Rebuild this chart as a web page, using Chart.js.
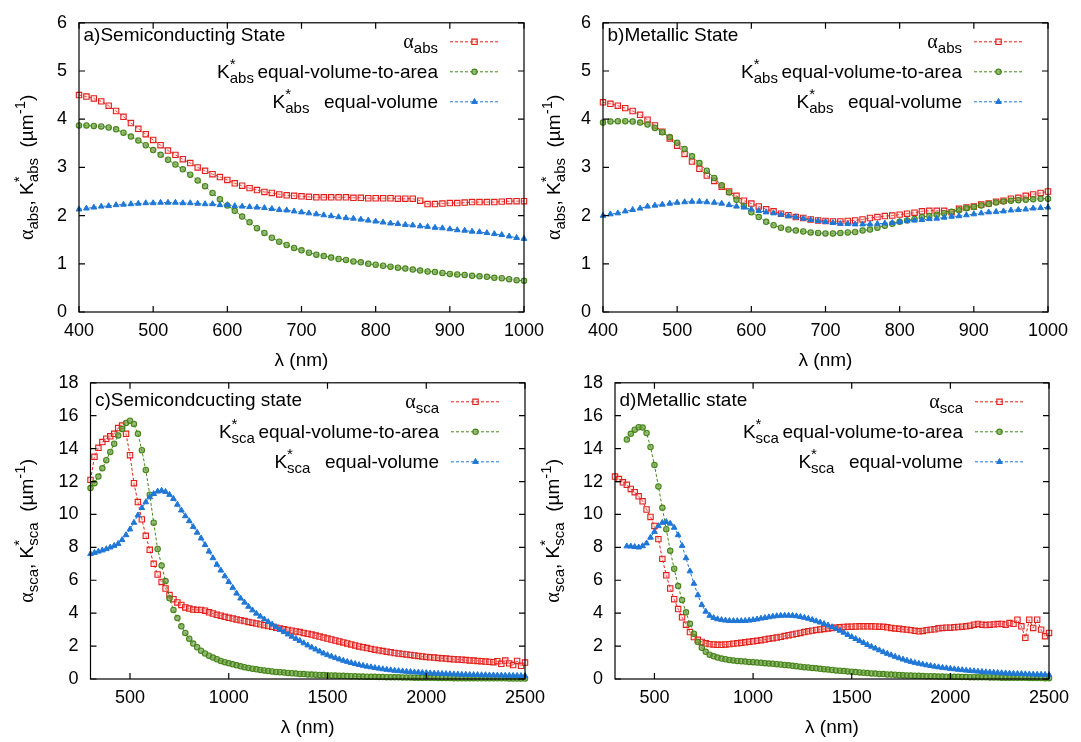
<!DOCTYPE html>
<html>
<head>
<meta charset="utf-8">
<title>Absorption and scattering coefficients</title>
<script src="https://cdn.jsdelivr.net/npm/chart.js@4.4.1/dist/chart.umd.min.js"></script>
<style>
  body { margin: 0; background: #fff; }
  canvas { position: absolute; }
</style>
</head>
<body>
<canvas id="chartA" width="560" height="371" style="left:0;top:0"></canvas>
<canvas id="chartB" width="541" height="371" style="left:540px;top:0"></canvas>
<canvas id="chartC" width="560" height="382" style="left:0;top:360px"></canvas>
<canvas id="chartD" width="541" height="382" style="left:540px;top:360px"></canvas>
<script>
// wavelengths (nm)
var absWl = [400,410,420,430,440,450,460,470,480,490,
  500,510,520,530,540,550,560,570,580,590,
  600,610,620,630,640,650,660,670,680,690,
  700,710,720,730,740,750,760,770,780,790,
  800,810,820,830,840,850,860,870,880,890,
  900,910,920,930,940,950,960,970,980,990,1000];
var scaWl = [300,320,340,360,380,400,420,440,460,480,
  500,520,540,560,580,600,620,640,660,680,
  700,720,740,760,780,800,820,840,860,880,
  900,920,940,960,980,1000,1020,1040,1060,1080,
  1100,1120,1140,1160,1180,1200,1220,1240,1260,1280,
  1300,1320,1340,1360,1380,1400,1420,1440,1460,1480,
  1500,1520,1540,1560,1580,1600,1620,1640,1660,1680,
  1700,1720,1740,1760,1780,1800,1820,1840,1860,1880,
  1900,1920,1940,1960,1980,2000,2020,2040,2060,2080,
  2100,2120,2140,2160,2180,2200,2220,2240,2260,2280,
  2300,2320,2340,2360,2380,2400,2420,2440,2460,2480,2500];

var absXTicks = [400, 500, 600, 700, 800, 900, 1000];
var absYTicks = [0, 1, 2, 3, 4, 5, 6];
var scaXTicks = [500, 1000, 1500, 2000, 2500];
var scaYTicks = [0, 2, 4, 6, 8, 10, 12, 14, 16, 18];

var legendText = ['', 'equal-volume-to-area', 'equal-volume'];

// a) semiconducting, absorption
var aAlpha = [4.50,4.47,4.43,4.37,4.28,4.17,4.05,3.92,3.80,3.69,
  3.57,3.46,3.35,3.26,3.17,3.09,3.00,2.93,2.86,2.80,
  2.74,2.67,2.62,2.57,2.53,2.49,2.47,2.44,2.42,2.41,
  2.40,2.39,2.38,2.38,2.38,2.38,2.38,2.37,2.37,2.36,
  2.36,2.36,2.36,2.35,2.35,2.35,2.31,2.24,2.24,2.25,
  2.26,2.26,2.27,2.28,2.28,2.28,2.28,2.29,2.30,2.30,2.30];
var aKArea = [3.87,3.87,3.86,3.85,3.83,3.79,3.72,3.64,3.56,3.46,
  3.36,3.26,3.16,3.06,2.96,2.85,2.73,2.61,2.47,2.34,
  2.21,2.10,1.98,1.86,1.74,1.64,1.54,1.46,1.39,1.33,
  1.28,1.23,1.19,1.16,1.13,1.10,1.08,1.05,1.03,1.00,
  0.98,0.96,0.94,0.92,0.90,0.88,0.86,0.84,0.83,0.81,
  0.79,0.78,0.77,0.75,0.74,0.73,0.71,0.70,0.68,0.66,0.65];
var aKVol = [2.13,2.15,2.17,2.19,2.20,2.22,2.23,2.24,2.25,2.26,
  2.26,2.27,2.27,2.27,2.26,2.26,2.25,2.24,2.24,2.22,
  2.22,2.20,2.19,2.18,2.17,2.16,2.14,2.12,2.11,2.09,
  2.07,2.05,2.03,2.01,1.99,1.97,1.95,1.94,1.92,1.90,
  1.88,1.86,1.84,1.83,1.81,1.80,1.78,1.77,1.75,1.74,
  1.72,1.70,1.69,1.67,1.66,1.64,1.62,1.60,1.57,1.54,1.52];

// b) metallic, absorption
var bAlpha = [4.35,4.32,4.28,4.23,4.17,4.09,3.99,3.87,3.74,3.60,
  3.45,3.28,3.12,2.97,2.83,2.72,2.60,2.50,2.41,2.31,
  2.25,2.19,2.13,2.09,2.04,2.01,1.97,1.95,1.92,1.90,
  1.89,1.88,1.88,1.89,1.90,1.92,1.95,1.97,1.99,2.00,
  2.02,2.04,2.06,2.09,2.10,2.10,2.10,2.07,2.14,2.17,
  2.19,2.23,2.25,2.29,2.31,2.35,2.37,2.41,2.44,2.47,2.50];
var bKArea = [3.93,3.95,3.96,3.96,3.95,3.93,3.89,3.82,3.73,3.63,
  3.51,3.38,3.23,3.09,2.93,2.78,2.63,2.48,2.33,2.20,
  2.07,1.97,1.87,1.80,1.75,1.71,1.69,1.67,1.65,1.64,
  1.63,1.63,1.64,1.65,1.66,1.69,1.71,1.75,1.79,1.83,
  1.87,1.90,1.93,1.97,1.99,2.02,2.05,2.08,2.11,2.15,
  2.18,2.21,2.24,2.27,2.29,2.31,2.32,2.33,2.34,2.35,2.35];
var bKVol = [2.00,2.03,2.05,2.09,2.12,2.15,2.19,2.21,2.23,2.25,
  2.27,2.28,2.29,2.29,2.28,2.27,2.25,2.22,2.19,2.17,
  2.13,2.10,2.07,2.05,2.02,1.99,1.97,1.94,1.91,1.89,
  1.87,1.85,1.83,1.83,1.82,1.82,1.82,1.83,1.84,1.85,
  1.87,1.89,1.90,1.91,1.93,1.94,1.96,1.98,1.99,2.01,
  2.03,2.05,2.07,2.08,2.09,2.11,2.12,2.13,2.15,2.16,2.17];

// c) semiconducting, scattering
var cAlpha = [12.1,13.5,14.05,14.4,14.6,14.75,14.9,15.25,15.4,14.9,
  13.6,11.9,10.75,9.7,8.7,7.85,7.0,6.35,5.9,5.5,
  5.1,4.85,4.65,4.5,4.35,4.28,4.22,4.2,4.2,4.15,
  4.05,3.98,3.9,3.85,3.78,3.72,3.67,3.62,3.57,3.52,
  3.47,3.42,3.37,3.32,3.27,3.22,3.17,3.12,3.07,3.02,
  2.98,2.94,2.89,2.85,2.8,2.75,2.7,2.64,2.58,2.52,
  2.46,2.4,2.34,2.28,2.22,2.16,2.1,2.04,1.98,1.93,
  1.88,1.83,1.78,1.74,1.7,1.66,1.62,1.58,1.55,1.52,
  1.49,1.46,1.43,1.4,1.37,1.34,1.32,1.3,1.28,1.26,
  1.24,1.22,1.2,1.19,1.17,1.15,1.13,1.12,1.1,1.08,
  1.06,1.04,1.02,1.08,0.92,1.12,0.95,0.85,1.1,0.8,1.0];
var cKArea = [11.6,11.9,12.3,12.8,13.3,13.8,14.3,14.8,15.2,15.55,
  15.7,15.5,14.9,13.9,12.7,11.2,9.5,7.9,6.9,5.95,
  4.9,4.2,3.7,3.2,2.8,2.45,2.15,1.93,1.72,1.55,
  1.42,1.3,1.2,1.1,1.02,0.95,0.89,0.83,0.77,0.72,
  0.67,0.63,0.59,0.55,0.52,0.49,0.46,0.43,0.41,0.39,
  0.37,0.35,0.33,0.31,0.3,0.28,0.27,0.26,0.25,0.24,
  0.23,0.22,0.21,0.2,0.19,0.18,0.17,0.16,0.15,0.15,
  0.14,0.13,0.13,0.12,0.12,0.11,0.11,0.1,0.1,0.09,
  0.09,0.09,0.08,0.08,0.08,0.07,0.07,0.07,0.06,0.06,
  0.06,0.06,0.05,0.05,0.05,0.05,0.05,0.05,0.04,0.04,
  0.04,0.04,0.04,0.04,0.04,0.04,0.03,0.03,0.03,0.03,0.03];
var cKVol = [7.6,7.67,7.75,7.82,7.9,8.0,8.1,8.22,8.45,8.75,
  9.1,9.5,9.95,10.4,10.75,11.05,11.25,11.4,11.45,11.38,
  11.2,10.95,10.6,10.25,9.9,9.6,9.25,8.9,8.55,8.15,
  7.75,7.35,6.95,6.6,6.25,5.9,5.55,5.2,4.9,4.65,
  4.4,4.18,3.98,3.8,3.63,3.47,3.32,3.16,3.0,2.86,
  2.72,2.58,2.45,2.32,2.18,2.05,1.92,1.8,1.68,1.56,
  1.46,1.37,1.28,1.2,1.12,1.05,0.98,0.92,0.86,0.81,
  0.76,0.72,0.68,0.64,0.6,0.57,0.54,0.51,0.49,0.47,
  0.45,0.43,0.41,0.4,0.38,0.37,0.35,0.34,0.33,0.32,
  0.31,0.3,0.29,0.28,0.27,0.27,0.26,0.25,0.25,0.24,
  0.24,0.23,0.23,0.22,0.22,0.21,0.21,0.2,0.2,0.19,0.19];

// d) metallic, scattering
var dAlpha = [12.3,12.15,11.95,11.8,11.55,11.35,11.1,10.8,10.3,9.85,
  9.3,8.5,7.3,6.3,5.5,4.85,4.25,3.75,3.3,2.85,
  2.55,2.38,2.25,2.17,2.12,2.1,2.08,2.08,2.1,2.12,
  2.15,2.17,2.2,2.23,2.26,2.29,2.32,2.36,2.4,2.44,
  2.48,2.52,2.56,2.61,2.66,2.7,2.75,2.8,2.85,2.9,
  2.94,2.98,3.01,3.04,3.07,3.1,3.12,3.14,3.16,3.17,
  3.18,3.19,3.2,3.2,3.2,3.2,3.19,3.18,3.17,3.14,
  3.1,3.07,3.05,3.02,3.0,2.97,2.93,2.9,2.92,2.97,
  3.0,3.02,3.08,3.1,3.12,3.12,3.14,3.16,3.18,3.2,
  3.24,3.3,3.35,3.3,3.28,3.3,3.32,3.34,3.35,3.3,
  3.4,3.35,3.6,3.2,2.5,3.6,3.1,3.6,3.0,2.6,2.8];
var dKArea = [null,null,null,14.55,14.9,15.15,15.3,15.28,14.95,14.1,
  13.0,11.7,10.4,9.1,7.8,6.7,5.65,4.8,4.05,3.35,
  2.75,2.25,1.9,1.65,1.48,1.38,1.3,1.24,1.2,1.16,
  1.13,1.1,1.08,1.06,1.04,1.02,1.0,0.98,0.96,0.94,
  0.92,0.9,0.88,0.85,0.83,0.8,0.78,0.75,0.72,0.7,
  0.67,0.65,0.62,0.6,0.57,0.55,0.52,0.5,0.48,0.46,
  0.44,0.42,0.4,0.38,0.36,0.34,0.33,0.31,0.3,0.28,
  0.27,0.26,0.24,0.23,0.22,0.21,0.2,0.19,0.18,0.17,
  0.17,0.16,0.15,0.15,0.14,0.14,0.13,0.13,0.12,0.12,
  0.11,0.11,0.1,0.1,0.1,0.09,0.09,0.09,0.08,0.08,
  0.08,0.07,0.07,0.07,0.07,0.06,0.06,0.06,0.06,0.05,0.05];
var dKVol = [null,null,null,8.07,8.06,8.03,8.0,8.08,8.25,8.6,
  8.95,9.3,9.5,9.55,9.45,9.2,8.75,8.1,7.35,6.55,
  5.8,5.1,4.5,4.1,3.85,3.72,3.64,3.59,3.56,3.54,
  3.53,3.53,3.53,3.54,3.56,3.59,3.63,3.68,3.72,3.76,
  3.8,3.83,3.85,3.86,3.86,3.85,3.82,3.78,3.73,3.67,
  3.6,3.52,3.44,3.35,3.26,3.16,3.06,2.94,2.82,2.69,
  2.56,2.44,2.32,2.2,2.08,1.97,1.86,1.75,1.64,1.54,
  1.45,1.36,1.27,1.19,1.12,1.05,0.99,0.94,0.89,0.84,
  0.8,0.76,0.72,0.69,0.66,0.63,0.6,0.57,0.55,0.52,
  0.5,0.48,0.46,0.44,0.42,0.41,0.39,0.38,0.36,0.35,
  0.34,0.33,0.32,0.31,0.3,0.29,0.28,0.27,0.27,0.26,0.25];

var FONT = "'Liberation Sans', Arial, Helvetica, sans-serif";
var SERIF = "'Liberation Serif', 'Times New Roman', serif";
var BIG = '19px ' + FONT;
var SMALL = '15px ' + FONT;
var GREEK = '20px ' + SERIF;

var RED = '#e1201c', GREEN = '#468618', BLUE = '#1f77d6';
var styles = [
  { color: RED, shape: 'rect', r: 3.8, fill: 'rgba(255,190,190,0.35)', bw: 1.1 },
  { color: GREEN, shape: 'circle', r: 2.7, fill: 'rgba(110,160,70,0.7)', bw: 1.1 },
  { color: BLUE, shape: 'triangle', r: 3.3, fill: BLUE, bw: 1 }
];

function toPoints(wl, vals) {
  return wl.map(function (x, i) { return { x: x, y: vals[i] }; });
}

function partWidth(ctx, p) {
  if (p.gap) return p.gap;
  ctx.font = SMALL;
  if (p.sup !== undefined) return Math.max(ctx.measureText(p.sup).width, ctx.measureText(p.sub).width);
  ctx.font = p.f;
  return ctx.measureText(p.t).width;
}

function partsWidth(ctx, parts) {
  var w = 0;
  parts.forEach(function (p) { w += partWidth(ctx, p); });
  return w;
}

function drawParts(ctx, parts, x, base) {
  parts.forEach(function (p) {
    var w = partWidth(ctx, p);
    if (p.sup !== undefined) {
      ctx.font = SMALL;
      ctx.fillText(p.sup, x, base - 9);
      ctx.fillText(p.sub, x, base + 5);
    } else if (p.t) {
      ctx.font = p.f;
      ctx.fillText(p.t, x, base + (p.dy || 0));
    }
    x += w;
  });
}

function marker(ctx, st, x, y) {
  ctx.beginPath();
  if (st.shape === 'rect') {
    var s = st.r * Math.SQRT1_2;
    ctx.rect(x - s, y - s, 2 * s, 2 * s);
  } else if (st.shape === 'circle') {
    ctx.arc(x, y, st.r, 0, Math.PI * 2);
  } else {
    for (var k = 0; k < 3; k++) {
      var ang = k * 2 * Math.PI / 3;
      var px = x + Math.sin(ang) * st.r, py = y - Math.cos(ang) * st.r;
      if (k === 0) ctx.moveTo(px, py); else ctx.lineTo(px, py);
    }
    ctx.closePath();
  }
  ctx.fillStyle = st.fill;
  ctx.fill();
  ctx.lineWidth = st.bw;
  ctx.strokeStyle = st.color;
  ctx.stroke();
}

// frame, inward ticks, labels, legend
var decorPlugin = {
  id: 'decor',
  afterDraw: function (chart, args, o) {
    var ctx = chart.ctx, a = chart.chartArea;
    var xs = chart.scales.x, ys = chart.scales.y;
    ctx.save();
    ctx.strokeStyle = '#000';
    ctx.lineWidth = 1.2;
    ctx.setLineDash([]);
    ctx.strokeRect(a.left, a.top, a.right - a.left, a.bottom - a.top);
    ctx.beginPath();
    xs.ticks.forEach(function (t) {
      var p = xs.getPixelForValue(t.value);
      ctx.moveTo(p, a.bottom); ctx.lineTo(p, a.bottom - 6);
      ctx.moveTo(p, a.top); ctx.lineTo(p, a.top + 6);
    });
    ys.ticks.forEach(function (t) {
      var p = ys.getPixelForValue(t.value);
      ctx.moveTo(a.left, p); ctx.lineTo(a.left + 6, p);
      ctx.moveTo(a.right, p); ctx.lineTo(a.right - 6, p);
    });
    ctx.stroke();

    ctx.fillStyle = '#000';
    ctx.textAlign = 'left';
    ctx.textBaseline = 'alphabetic';

    // panel label
    ctx.font = BIG;
    ctx.fillText(o.panel, a.left + 4.5, a.top + o.panelBase);

    // x title
    ctx.textAlign = 'center';
    ctx.fillText('λ (nm)', (a.left + a.right) / 2, a.bottom + 54);
    ctx.textAlign = 'left';

    // y title
    var sub = o.sub;
    var yParts = [{ t: 'α', f: GREEK }, { t: sub, f: SMALL, dy: 5 }, { t: ', ', f: BIG },
      { t: 'K', f: BIG }, { sup: '*', sub: sub }, { t: '  (µm', f: BIG },
      { t: '-1', f: SMALL, dy: -8 }, { t: ')', f: BIG }];
    var W = partsWidth(ctx, yParts);
    ctx.save();
    ctx.translate(a.left - o.titleOff, (a.top + a.bottom) / 2);
    ctx.rotate(-Math.PI / 2);
    drawParts(ctx, yParts, -W / 2, 0);
    ctx.restore();

    // legend
    var rows = [
      [{ t: 'α', f: GREEK }, { t: sub, f: SMALL, dy: 5 }],
      [{ t: 'K', f: BIG }, { sup: '*', sub: sub }, { gap: 3.5 }, { t: legendText[1], f: BIG }],
      [{ t: 'K', f: BIG }, { sup: '*', sub: sub }, { gap: 14.5 }, { t: legendText[2], f: BIG }]
    ];
    rows.forEach(function (parts, i) {
      var cy = a.top + 19 + 30 * i;
      var w = partsWidth(ctx, parts);
      ctx.fillStyle = '#000';
      drawParts(ctx, parts, a.right - 86 - w, cy + 6);
      var st = styles[i];
      ctx.save();
      ctx.strokeStyle = st.color;
      ctx.lineWidth = 1;
      ctx.setLineDash([3, 2]);
      ctx.beginPath();
      ctx.moveTo(a.right - 74, cy); ctx.lineTo(a.right - 25, cy);
      ctx.stroke();
      ctx.setLineDash([]);
      marker(ctx, st, a.right - 49.5, cy);
      ctx.restore();
    });
    ctx.restore();
  }
};

function plainLabel(v) { return String(v); }

function makeChart(id, p) {
  var datasets = p.series.map(function (vals, i) {
    var st = styles[i];
    return {
      data: toPoints(p.wl, vals),
      borderColor: st.color,
      borderWidth: 1,
      borderDash: [3, 2],
      pointStyle: st.shape,
      pointRadius: st.r,
      pointBorderWidth: st.bw,
      pointBorderColor: st.color,
      pointBackgroundColor: st.fill,
      fill: false,
      tension: 0,
      clip: 4
    };
  });
  datasets.reverse();
  return new Chart(document.getElementById(id), {
    type: 'line',
    data: { datasets: datasets },
    plugins: [decorPlugin],
    options: {
      responsive: false,
      animation: false,
      devicePixelRatio: 1,
      events: [],
      layout: { padding: { left: 0, top: p.padTop, right: p.padRight, bottom: 0 } },
      plugins: {
        legend: { display: false },
        tooltip: { enabled: false },
        decor: { panel: p.panel, panelBase: p.panelBase, sub: p.sub, titleOff: p.titleOff }
      },
      scales: {
        x: {
          type: 'linear', min: p.xMin, max: p.xMax,
          grid: { display: false, drawTicks: false },
          border: { display: false },
          ticks: { color: '#000', font: { family: FONT, size: 18 }, padding: 8, maxRotation: 0,
            autoSkip: false, callback: plainLabel },
          afterBuildTicks: function (s) { s.ticks = p.xTicks.map(function (v) { return { value: v }; }); },
          afterFit: function (s) { s.height = p.xH; }
        },
        y: {
          type: 'linear', min: p.yMin, max: p.yMax,
          grid: { display: false, drawTicks: false },
          border: { display: false },
          ticks: { color: '#000', font: { family: FONT, size: 18 }, padding: 12,
            autoSkip: false, callback: plainLabel },
          afterBuildTicks: function (s) { s.ticks = p.yTicks.map(function (v) { return { value: v }; }); },
          afterFit: function (s) { s.width = p.yW; }
        }
      }
    }
  });
}

makeChart('chartA', {
  wl: absWl, series: [aAlpha, aKArea, aKVol], sub: 'abs',
  panel: 'a)Semiconducting State', panelBase: 18.5, titleOff: 46,
  xMin: 400, xMax: 1000, yMin: 0, yMax: 6, xTicks: absXTicks, yTicks: absYTicks,
  padTop: 12, padRight: 36, yW: 79, xH: 59
});
makeChart('chartB', {
  wl: absWl, series: [bAlpha, bKArea, bKVol], sub: 'abs',
  panel: 'b)Metallic State', panelBase: 18.5, titleOff: 43,
  xMin: 400, xMax: 1000, yMin: 0, yMax: 6, xTicks: absXTicks, yTicks: absYTicks,
  padTop: 12, padRight: 33, yW: 63, xH: 59
});
makeChart('chartC', {
  wl: scaWl, series: [cAlpha, cKArea, cKVol], sub: 'sca',
  panel: 'c)Semicondcucting state', panelBase: 23, titleOff: 57.5,
  xMin: 300, xMax: 2500, yMin: 0, yMax: 18, xTicks: scaXTicks, yTicks: scaYTicks,
  padTop: 19, padRight: 35, yW: 90.5, xH: 63
});
makeChart('chartD', {
  wl: scaWl, series: [dAlpha, dKArea, dKVol], sub: 'sca',
  panel: 'd)Metallic state', panelBase: 23, titleOff: 56,
  xMin: 300, xMax: 2500, yMin: 0, yMax: 18, xTicks: scaXTicks, yTicks: scaYTicks,
  padTop: 19, padRight: 32, yW: 75, xH: 63
});
</script>
</body>
</html>
